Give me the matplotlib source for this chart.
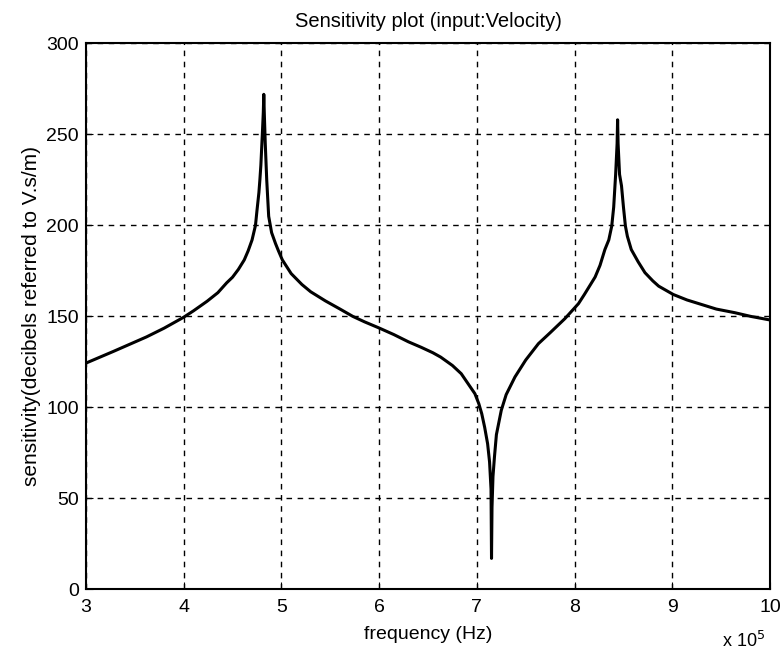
import matplotlib
matplotlib.use('Agg')
import matplotlib.pyplot as plt

# frequency in units of 1e5 Hz, sensitivity in dB re V.s/m
freq = [3.00, 3.28, 3.62, 3.80, 4.00, 4.10, 4.24, 4.35, 4.44, 4.50, 4.56, 4.62, 4.66,
        4.70, 4.735, 4.75, 4.77, 4.78, 4.79, 4.805, 4.815, 4.82, 4.825, 4.835, 4.85,
        4.87, 4.90, 4.94, 4.97, 5.01, 5.10, 5.21, 5.30, 5.45, 5.60, 5.73, 5.85,
        6.00, 6.15, 6.30, 6.43, 6.55, 6.63, 6.75, 6.84, 6.91, 6.98, 7.02, 7.05,
        7.08, 7.11, 7.13, 7.145, 7.15, 7.155, 7.165, 7.18, 7.20, 7.25, 7.30, 7.39,
        7.50, 7.63, 7.75, 7.90, 8.04, 8.10, 8.21, 8.26, 8.31, 8.35, 8.38, 8.40,
        8.42, 8.435, 8.44, 8.445, 8.46, 8.48, 8.50, 8.52, 8.54, 8.58, 8.65, 8.72,
        8.80, 8.86, 9.01, 9.15, 9.30, 9.45, 9.64, 9.80, 10.00]
sens = [124.3, 130.7, 138.7, 143.5, 149.5, 153.0, 158.3, 163.0, 168.4, 171.5, 175.8, 181.0, 186.0,
        192.0, 200.0, 208.0, 218.0, 225.0, 233.0, 250.0, 262.0, 272.0, 262.0, 245.0, 225.0,
        205.0, 196.0, 190.0, 186.0, 181.0, 173.5, 167.5, 163.5, 158.5, 154.0, 150.0, 147.0,
        143.6, 140.0, 136.0, 133.0, 130.0, 127.6, 123.0, 118.5, 113.0, 107.5, 102.0, 96.5,
        89.0, 80.0, 70.0, 55.0, 17.0, 45.0, 62.0, 72.7, 85.0, 98.4, 107.0, 116.7,
        126.0, 135.0, 141.0, 148.7, 157.0, 162.0, 171.6, 178.0, 186.7, 192.0, 199.6, 210.0,
        228.0, 245.0, 258.0, 245.0, 228.0, 221.7, 210.0, 199.6, 194.0, 186.7, 180.0, 174.0,
        169.5, 166.6, 162.0, 159.0, 156.5, 154.0, 152.0, 150.0, 148.0]

xticks = [3, 4, 5, 6, 7, 8, 9, 10]
yticks = [0, 50, 100, 150, 200, 250, 300]

plt.rcParams['font.family'] = ['Liberation Sans', 'DejaVu Sans']

fig = plt.figure(figsize=(7.81, 6.57), dpi=100)
ax = fig.add_axes([0.110, 0.103, 0.876, 0.831])

ax.plot(freq, sens, color='black', linewidth=2.2)

ax.set_xlim(3, 10)
ax.set_ylim(0, 300)
ax.set_xticks(xticks)
ax.set_yticks(yticks)
ax.tick_params(direction='in', length=5, labelsize=14, colors='black')
ax.tick_params(axis='x', pad=7)
ax.tick_params(axis='y', pad=5)
ax.grid(True, color='black', linestyle=(0, (4, 4)), linewidth=1.0)
for s in ax.spines.values():
    s.set_linewidth(1.5)

ax.set_title('Sensitivity plot (input:Velocity)', fontsize=14.5, pad=12)
ax.set_xlabel('frequency (Hz)', fontsize=14, labelpad=7)
ax.set_ylabel('sensitivity(decibels referred to V.s/m)', fontsize=15, labelpad=4)
fig.text(0.925, 0.015, r'x 10$^5$', fontsize=13)

plt.savefig('out.png', dpi=100)
